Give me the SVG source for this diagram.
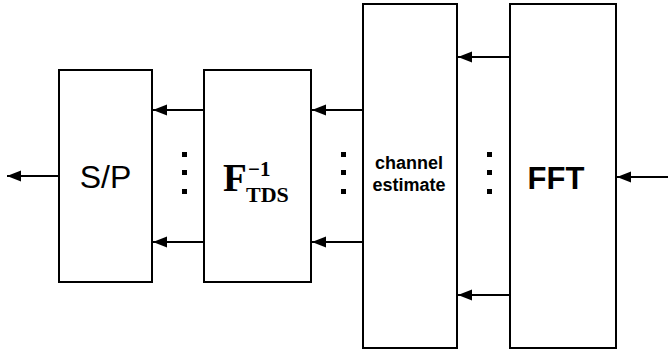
<svg xmlns="http://www.w3.org/2000/svg" width="668" height="358" viewBox="0 0 668 358">
<style>
.box{fill:#fff;stroke:#000;stroke-width:2}
.ln{stroke:#000;stroke-width:2;fill:none;marker-end:url(#ah)}
.dot{fill:#000}
.sans{font-family:"Liberation Sans",Arial,sans-serif;fill:#000}
.serif{font-family:"Liberation Serif","Times New Roman",serif;font-weight:bold;fill:#000}
</style>
<defs>
<marker id="ah" markerUnits="userSpaceOnUse" markerWidth="15" markerHeight="12" refX="14" refY="6" orient="auto">
<path d="M0,0.5 L14,6 L0,11.5 Z" fill="#000"/>
</marker>
</defs>
<g id="sp"><rect class="box" x="59" y="70" width="93" height="212"/><text class="sans" x="105.5" y="188" font-size="32" text-anchor="middle">S/P</text></g>
<g id="ftds"><rect class="box" x="204" y="70" width="107" height="212"/>
<text class="serif" x="223" y="191" font-size="39">F</text>
<text class="serif" x="248" y="176" font-size="21">−1</text>
<text class="serif" x="246" y="202" font-size="22">TDS</text></g>
<g id="ce"><rect class="box" x="363" y="4" width="94" height="344"/><text class="sans" x="409" y="169" font-size="18" font-weight="bold" text-anchor="middle">channel</text><text class="sans" x="409" y="191" font-size="18" font-weight="bold" text-anchor="middle">estimate</text></g>
<g id="fft"><rect class="box" x="510" y="4" width="106" height="344"/><text class="sans" x="556" y="189" font-size="31" font-weight="bold" text-anchor="middle">FFT</text></g>
<g id="connectors">
<line class="ln" x1="59" y1="176" x2="7" y2="176"/>
<line class="ln" x1="204" y1="110" x2="153" y2="110"/>
<line class="ln" x1="204" y1="242" x2="153" y2="242"/>
<line class="ln" x1="363" y1="110" x2="312" y2="110"/>
<line class="ln" x1="363" y1="242" x2="312" y2="242"/>
<line class="ln" x1="510" y1="57" x2="458" y2="57"/>
<line class="ln" x1="510" y1="295" x2="458" y2="295"/>
<line class="ln" x1="668" y1="177" x2="617" y2="177"/>
</g>
<g id="dots">
<rect class="dot" x="182" y="152" width="5" height="5"/><rect class="dot" x="182" y="170" width="5" height="5"/><rect class="dot" x="182" y="189" width="5" height="5"/>
<rect class="dot" x="341" y="152" width="5" height="5"/><rect class="dot" x="341" y="170" width="5" height="5"/><rect class="dot" x="341" y="189" width="5" height="5"/>
<rect class="dot" x="487" y="152" width="5" height="5"/><rect class="dot" x="487" y="170" width="5" height="5"/><rect class="dot" x="487" y="189" width="5" height="5"/>
</g>
</svg>
